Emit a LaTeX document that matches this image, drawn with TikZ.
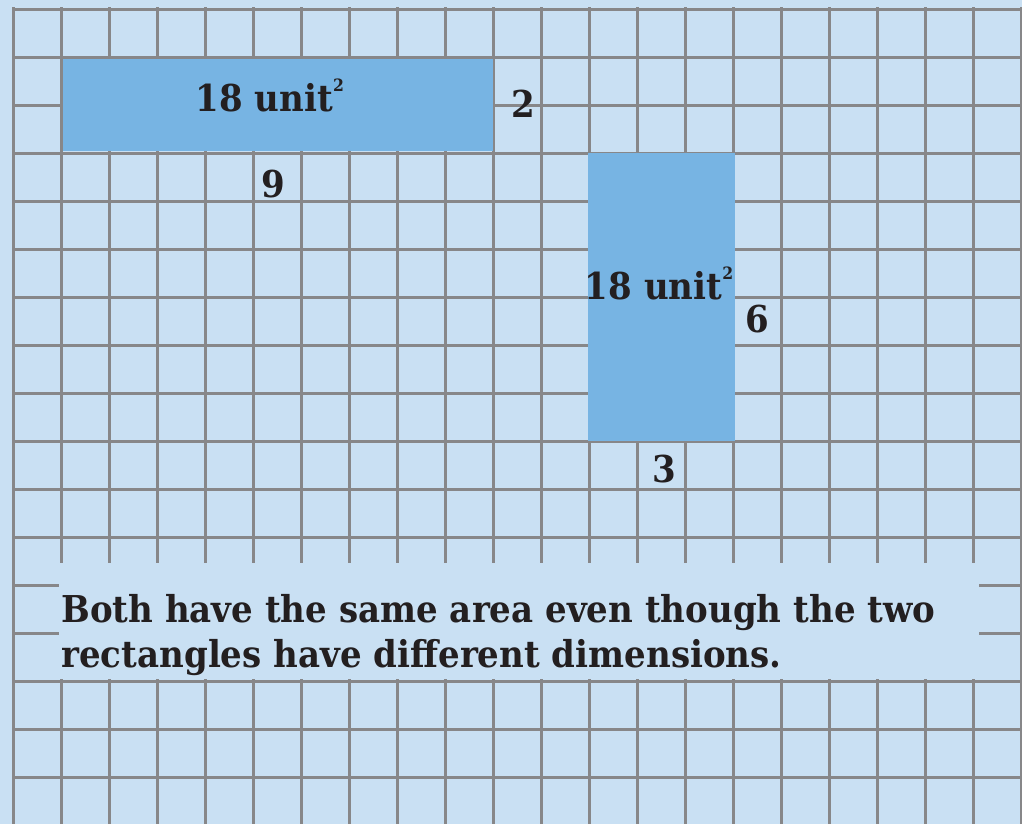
\documentclass[tikz,border=0pt]{standalone}
\usepackage{fontspec}
\setmainfont[FakeStretch=0.92]{DejaVu Serif}
\usetikzlibrary{positioning}
\definecolor{PAPER-BLUE}{RGB}{201,224,243}
\definecolor{AREA-BLUE}{RGB}{119,180,227}
\definecolor{GRID-GRAY}{RGB}{135,135,137}
\definecolor{INK}{RGB}{35,31,32}
\newcommand{\squnit}{unit\raisebox{1.05ex}{\fontsize{8.5}{9}\selectfont 2}}

\begin{document}
\begin{tikzpicture}[x=24pt,y=-24pt,
    gridline/.style={GRID-GRAY, line width=1.5pt},
    area/.style={fill=AREA-BLUE},
    lbl/.style={INK, font=\bfseries\fontsize{18.5}{22}\selectfont, inner sep=0pt, anchor=base}]
  % Paper
  \fill[PAPER-BLUE] (-0.271,-0.208) rectangle (21.021,16.958);
  \useasboundingbox (-0.271,-0.208) rectangle (21.021,16.958);

  % Grid
  \foreach \i in {0,...,21}
    \draw[gridline] (\i,-0.06) -- (\i,16.958);
  \foreach \j in {0,...,16}
    \draw[gridline] (0,\j) -- (21,\j);

  % Band behind the caption
  \fill[PAPER-BLUE] (0.96,11.52) rectangle (20.125,13.94);

  % Rectangle 9 by 2
  \fill[area] (1.04,1.02) rectangle (9.99,2.94);
  \node[lbl] (areaA) at (5.35,2.125) {18 \squnit};
  \node[lbl] (sideA) at (10.625,2.25) {2};
  \node[lbl] (baseA) at (5.42,3.9) {9};

  % Rectangle 3 by 6
  \fill[area] (11.98,2.98) rectangle (15.04,8.98);
  \node[lbl] (areaB) at (13.46,6.04) {18 \squnit};
  \node[lbl] (sideB) at (15.51,6.71) {6};
  \node[lbl] (baseB) at (13.56,9.85) {3};

  % Caption
  \node[lbl, anchor=base west] (capA) at (1.0,12.77)
    {Both have the same area even though the two};
  \node[lbl, anchor=base west] (capB) at (1.0,13.69)
    {rectangles have different dimensions.};
\end{tikzpicture}
\end{document}
